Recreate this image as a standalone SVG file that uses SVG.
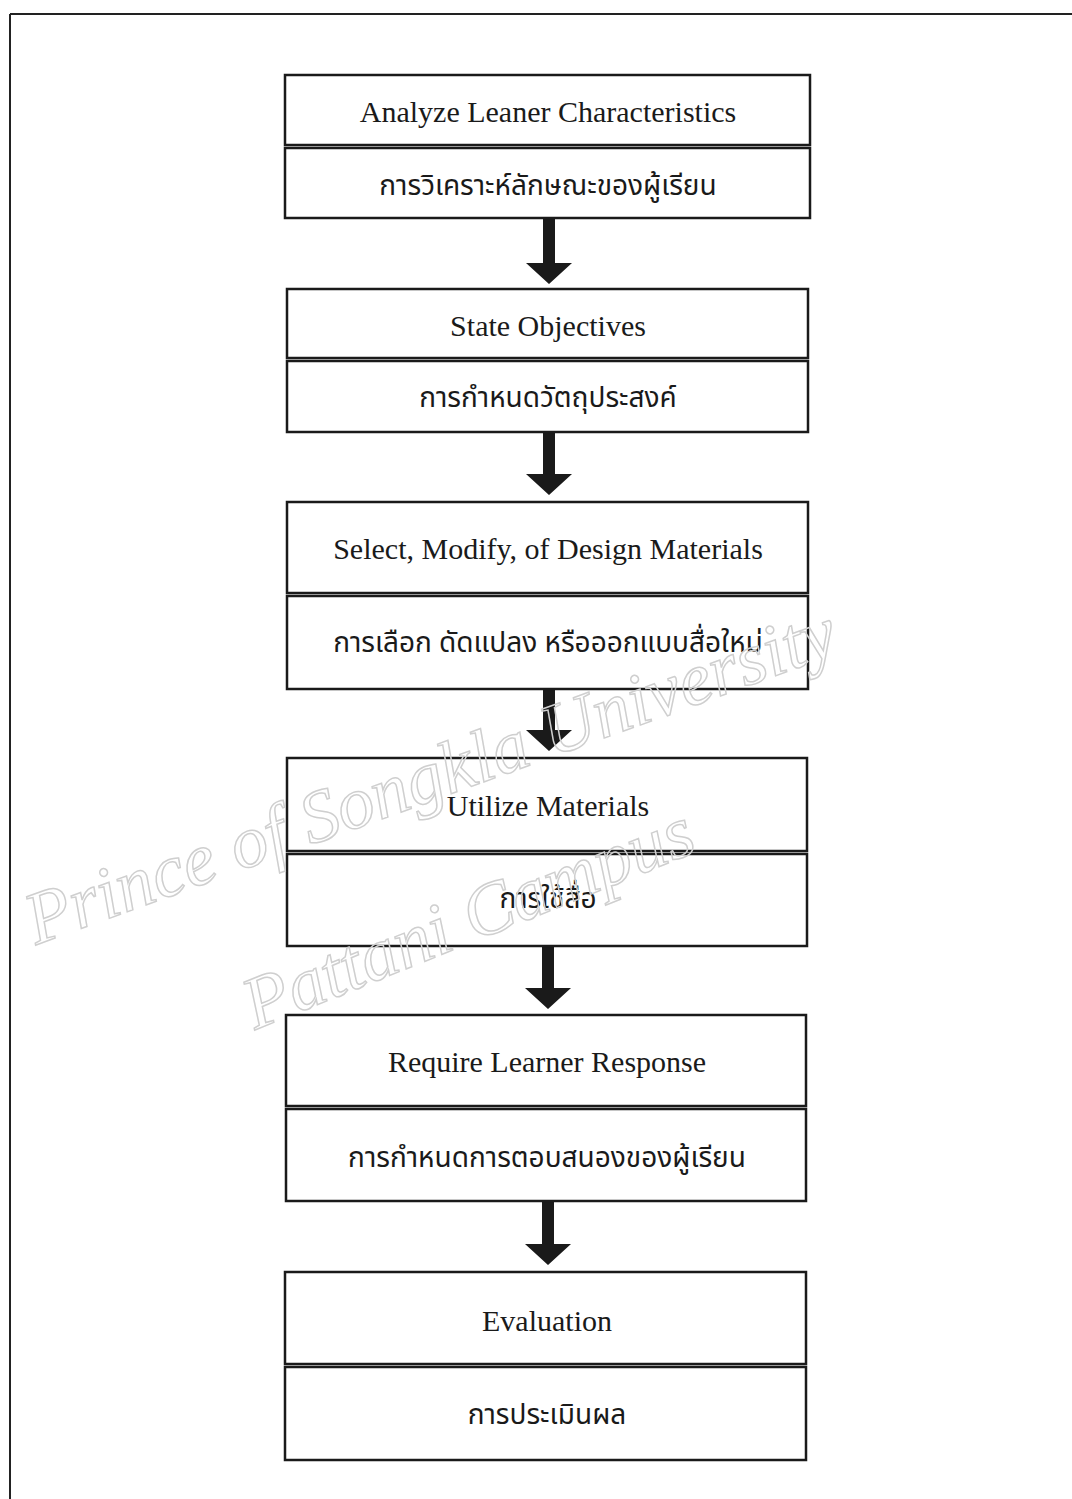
<svg xmlns="http://www.w3.org/2000/svg" width="1072" height="1499" viewBox="0 0 1072 1499">
<style>
.box{fill:#fff;stroke:#1a1a1a;stroke-width:2.5}
.en{font-family:"Liberation Serif","Times New Roman",serif;font-size:30px;fill:#1a1a1a;text-anchor:middle}
.th{font-family:"Noto Sans Thai","Loma","Garuda","DejaVu Sans","Liberation Sans",sans-serif;font-size:28px;fill:#1a1a1a;text-anchor:middle}
.wm{font-family:"Liberation Serif",serif;font-style:italic;font-size:74px;fill:none;stroke:#cfcfcf;stroke-width:1.5}
.arr{fill:#1a1a1a}
</style>
<rect width="1072" height="1499" fill="#fff"/>
<g id="frame">
<line x1="10" y1="14" x2="1072" y2="14" stroke="#222" stroke-width="2"/>
<line x1="10" y1="14" x2="10" y2="1499" stroke="#222" stroke-width="2"/>
</g>
<g id="connectors">
<path class="arr" d="M543,219 h12 v44 h17 l-23,21 l-23,-21 h17 z"/>
<path class="arr" d="M543,433 h12 v41 h17 l-23,21 l-23,-21 h17 z"/>
<path class="arr" d="M543,690 h12 v40 h17 l-23,21 l-23,-21 h17 z"/>
<path class="arr" d="M542,947 h12 v41 h17 l-23,21 l-23,-21 h17 z"/>
<path class="arr" d="M542,1202 h12 v42 h17 l-23,21 l-23,-21 h17 z"/>
</g>
<g id="n1">
<rect class="box" x="285" y="75" width="525" height="70"/>
<rect class="box" x="285" y="148" width="525" height="70"/>
<text class="en" x="548" y="122">Analyze Leaner Characteristics</text>
<text class="th" x="548" y="195">การวิเคราะห์ลักษณะของผู้เรียน</text>
</g>
<g id="n2">
<rect class="box" x="287" y="289" width="521" height="69"/>
<rect class="box" x="287" y="361" width="521" height="71"/>
<text class="en" x="548" y="336">State Objectives</text>
<text class="th" x="548" y="407">การกำหนดวัตถุประสงค์</text>
</g>
<g id="n3">
<rect class="box" x="287" y="502" width="521" height="91"/>
<rect class="box" x="287" y="596" width="521" height="93"/>
<text class="en" x="548" y="559">Select, Modify, of Design Materials</text>
<text class="th" x="548" y="652">การเลือก ดัดแปลง หรือออกแบบสื่อใหม่</text>
</g>
<g id="n4">
<rect class="box" x="287" y="758" width="520" height="93"/>
<rect class="box" x="287" y="854" width="520" height="92"/>
<text class="en" x="548" y="816">Utilize Materials</text>
<text class="th" x="548" y="908">การใช้สื่อ</text>
</g>
<g id="n5">
<rect class="box" x="286" y="1015" width="520" height="91"/>
<rect class="box" x="286" y="1109" width="520" height="92"/>
<text class="en" x="547" y="1072">Require Learner Response</text>
<text class="th" x="547" y="1167">การกำหนดการตอบสนองของผู้เรียน</text>
</g>
<g id="n6">
<rect class="box" x="285" y="1272" width="521" height="92"/>
<rect class="box" x="285" y="1367" width="521" height="93"/>
<text class="en" x="547" y="1331">Evaluation</text>
<text class="th" x="547" y="1424">การประเมินผล</text>
</g>
<g id="watermark">
<text class="wm" transform="translate(36,945) rotate(-20)">Prince of Songkla University</text>
<text class="wm" transform="translate(255,1030) rotate(-22)">Pattani Campus</text>
</g>
</svg>
